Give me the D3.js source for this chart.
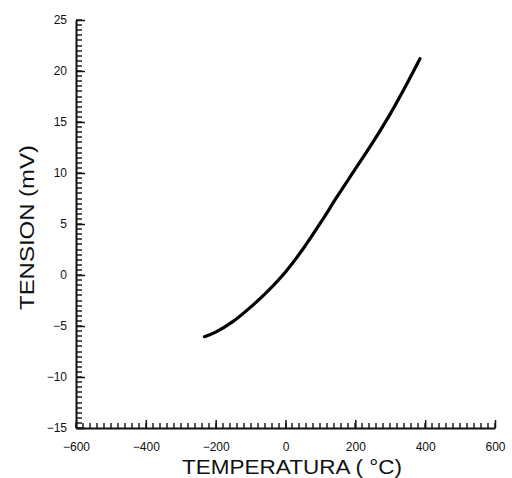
<!DOCTYPE html>
<html>
<head>
<meta charset="utf-8">
<script src="https://cdn.jsdelivr.net/npm/d3@7"></script>
<style>
  body { margin: 0; background: #fff; }
  svg text { font-family: "Liberation Sans", Arial, sans-serif; fill: #111; }
</style>
</head>
<body>
<div id="chart"></div>
<script>
// curve (temperature in C, tension in mV)
const temperature = [-232, -200, -150, -100, -50, 0, 50, 100, 150, 200, 250, 300, 350, 385];
const tension = [-6.05, -5.6, -4.55, -3.15, -1.55, 0.3, 2.55, 5.1, 7.8, 10.4, 13.0, 15.8, 18.9, 21.2];

const xTicks = [-600, -400, -200, 0, 200, 400, 600];
const yTicks = [-15, -10, -5, 0, 5, 10, 15, 20, 25];
const xMinor = d3.range(-600, 601, 20);
const yMinor = d3.range(-30, 51).map(k => k / 2);   // every 0.5 mV

const width = 512, height = 478;
const plotLeft = 76, plotRight = 495, plotTop = 20, plotBottom = 428;

const svg = d3.select("#chart").append("svg")
    .attr("width", width)
    .attr("height", height);

const x = d3.scaleLinear().domain([-600, 600]).range([plotLeft, plotRight]);
const y = d3.scaleLinear().domain([-15, 25]).range([plotBottom, plotTop]);

// minor ticks pointing into the plot, drawn as small filled bars
svg.append("g").selectAll("rect")
    .data(xMinor)
    .enter().append("rect")
    .attr("x", d => Math.round(x(d)) - 0.7)
    .attr("y", plotBottom - 5)
    .attr("width", 1.4)
    .attr("height", 5)
    .attr("fill", "#111");

svg.append("g").selectAll("rect")
    .data(yMinor)
    .enter().append("rect")
    .attr("x", plotLeft)
    .attr("y", d => Math.round(y(d)) - 0.7)
    .attr("width", 6)
    .attr("height", 1.4)
    .attr("fill", "#111");

// major ticks with labels
const xAxis = svg.append("g")
    .attr("transform", `translate(0,${plotBottom})`)
    .call(d3.axisBottom(x).tickValues(xTicks).tickSize(-8).tickPadding(14).tickSizeOuter(0));
xAxis.selectAll("text").attr("font-size", 12);

const yAxis = svg.append("g")
    .attr("transform", `translate(${plotLeft},0)`)
    .call(d3.axisLeft(y).tickValues(yTicks).tickSize(-9).tickPadding(9).tickSizeOuter(0));
yAxis.selectAll("text").attr("font-size", 12);

svg.selectAll(".tick line").attr("stroke", "#111").attr("stroke-width", 1.5);
svg.selectAll(".domain").attr("stroke", "#111").attr("stroke-width", 2);

// the curve
const line = d3.line()
    .x((d, i) => x(temperature[i]))
    .y(d => y(d))
    .curve(d3.curveCatmullRom);

svg.append("path")
    .datum(tension)
    .attr("d", line)
    .attr("fill", "none")
    .attr("stroke", "#000")
    .attr("stroke-width", 3.2)
    .attr("stroke-linecap", "round");

// axis titles
svg.append("text")
    .attr("x", 182)
    .attr("y", 474)
    .attr("font-size", 21)
    .attr("textLength", 220)
    .attr("lengthAdjust", "spacingAndGlyphs")
    .text("TEMPERATURA  ( °C)");

svg.append("text")
    .attr("transform", `translate(34,310) rotate(-90)`)
    .attr("font-size", 21)
    .attr("textLength", 165)
    .attr("lengthAdjust", "spacingAndGlyphs")
    .text("TENSION  (mV)");
</script>
</body>
</html>
